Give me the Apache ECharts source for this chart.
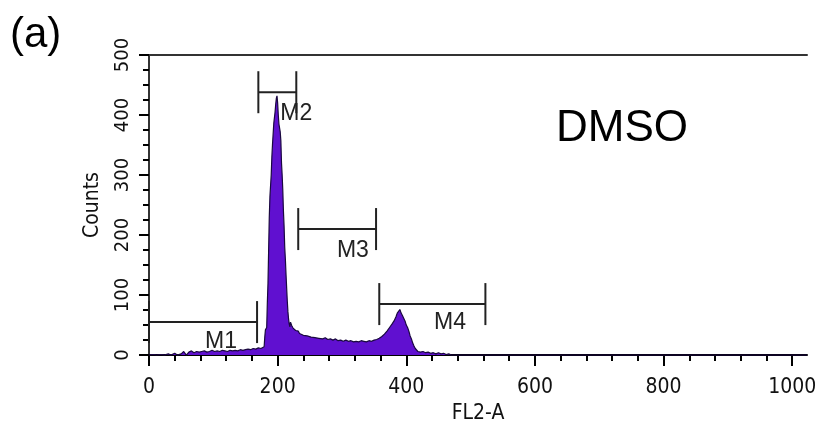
<!DOCTYPE html>
<html><head><meta charset="utf-8">
<script src="https://cdn.jsdelivr.net/npm/echarts@6/dist/echarts.min.js"></script>
<style>html,body{margin:0;padding:0;background:#fff}#c{width:822px;height:429px}</style>
</head><body><div id="c"></div>
<script>
// Histogram channels (FL2-A) and counts
const histX = [0,6,12,18,24,30,34,40,44,50,54,58,62,66,70,74,78,82,86,90,94,98,102,106,110,114,118,122,126,130,134,138,142,146,150,154,158,162,166,170,174,177,179,180,181,183,184,185,186,187,188,190,191,192,194,196,197,198,199,200,201,202,204,205,206,207,208,209,210,211,212,213,214,215,216,217,218,219,220,222,224,226,228,230,232,234,237,240,243,246,249,252,255,258,261,264,267,270,274,278,282,286,290,294,298,302,306,310,314,318,322,326,330,334,338,342,346,350,354,358,362,366,370,374,378,381,384,386,388,390,392,394,396,398,400,402,404,406,408,410,412,414,416,418,422,426,430,434,438,442,446,450,454,458,462,466,470,1023];
const histCounts = [0,1,0,1,0,2,0,3,0,2,6,0,5,7,4,6,5,6,7,5,6,8,6,7,6,8,7,6,8,7,8,7,9,8,9,10,9,11,10,12,11,13,14,30,42,46,88,120,175,230,264,300,330,351,386,405,418,428,432,420,400,385,372,357,320,300,275,240,215,180,160,135,112,90,72,60,52,47,55,49,45,47,41,38,40,36,38,33,35,32,33,30,32,29,31,28,29,27,29,26,27,25,27,24,25,23,25,23,24,22,23,22,24,23,22,24,23,25,26,28,31,35,40,46,52,57,64,70,73,76,70,66,63,57,50,46,40,32,27,20,15,11,8,6,5,6,4,5,3,4,2,4,2,3,1,2,0,0];

// Axis ticks
const xMajor = [0,200,400,600,800,1000];
const xMinor = [40,80,120,160,240,280,320,360,440,480,520,560,640,680,720,760,840,880,920,960];

// Marker gates (M1..M4): start, end, level, label anchor
const markerNames = ['M1','M2','M3','M4'];
const markerStart = [0,170,232,358];
const markerEnd = [168,229,353,523];
const markerLevel = [55,438,210,85];
const markerLabelX = [112,229,317,468];
const markerLabelY = [23,402,174,54];

const histData = histX.map((x,i)=>[x,histCounts[i]]);
const markerData = markerNames.map((n,i)=>[markerStart[i],markerEnd[i],markerLevel[i],markerLabelX[i],markerLabelY[i],n]);

const narrow = '"Liberation Sans Narrow","DejaVu Sans Condensed","Arial Narrow","Liberation Sans",Arial,sans-serif';
const chart = echarts.init(document.getElementById('c'), null, {renderer:'canvas'});
chart.setOption({
  animation:false,
  backgroundColor:'#fff',
  grid:{left:149,right:15,top:55,bottom:67,containLabel:false},
  xAxis:[
    {type:'value',position:'bottom',min:0,max:1023,
     axisLine:{show:true,lineStyle:{color:'#000',width:2}},
     axisTick:{show:true,customValues:xMajor,length:11,lineStyle:{color:'#000',width:2}},
     axisLabel:{show:true,customValues:xMajor,margin:22,fontFamily:narrow,fontSize:21,color:'#111',
       formatter:function(v){return String(v);}},
     splitLine:{show:false},
     name:'FL2-A',nameLocation:'middle',nameGap:46,
     nameTextStyle:{fontFamily:narrow,fontSize:21,color:'#111'}},
    {type:'value',position:'bottom',min:0,max:1023,
     axisLine:{show:false},
     axisTick:{show:true,customValues:xMinor,length:6,lineStyle:{color:'#000',width:2}},
     axisLabel:{show:false},splitLine:{show:false}},
    {type:'value',position:'top',min:0,max:1023,
     axisLine:{show:true,lineStyle:{color:'#333',width:2}},
     axisTick:{show:false},axisLabel:{show:false},splitLine:{show:false}}
  ],
  yAxis:[
    {type:'value',position:'left',min:0,max:500,interval:100,
     axisLine:{show:true,lineStyle:{color:'#000',width:2}},
     axisTick:{show:true,length:10,lineStyle:{color:'#000',width:2}},
     minorTick:{show:true,splitNumber:4,length:6,lineStyle:{color:'#000',width:2}},
     axisLabel:{show:true,rotate:90,margin:16,fontFamily:narrow,fontSize:20,color:'#111'},
     splitLine:{show:false},minorSplitLine:{show:false},
     name:'Counts',nameLocation:'middle',nameGap:46,nameRotate:90,
     nameTextStyle:{fontFamily:narrow,fontSize:21,color:'#111'}},
    {type:'value',position:'right',min:0,max:500,
     axisLine:{show:true,lineStyle:{color:'#333',width:2}},
     axisTick:{show:false},axisLabel:{show:false},splitLine:{show:false}}
  ],
  graphic:[
    {type:'text',left:10,top:14,style:{text:'(a)',fontFamily:'"Liberation Sans",Arial,sans-serif',fontSize:42,fill:'#000'}},
    {type:'text',left:556,top:107,style:{text:'DMSO',fontFamily:'"Liberation Sans",Arial,sans-serif',fontSize:44,fill:'#000'}}
  ],
  series:[
    {type:'line',xAxisIndex:0,yAxisIndex:0,data:histData,symbol:'none',
     lineStyle:{color:'#1a0840',width:1.2},
     areaStyle:{color:'#6010d0',opacity:1},z:2},
    {type:'custom',xAxisIndex:0,yAxisIndex:0,data:markerData,clip:false,z:5,
     renderItem:function(params,api){
       const a=api.coord([api.value(0),api.value(2)]);
       const b=api.coord([api.value(1),api.value(2)]);
       const t=api.coord([api.value(3),api.value(4)]);
       const h=21;
       const ls={stroke:'#222',lineWidth:2};
       return {type:'group',children:[
         {type:'line',shape:{x1:a[0],y1:a[1],x2:b[0],y2:b[1]},style:ls},
         {type:'line',shape:{x1:a[0],y1:a[1]-h,x2:a[0],y2:a[1]+h},style:ls},
         {type:'line',shape:{x1:b[0],y1:b[1]-h,x2:b[0],y2:b[1]+h},style:ls},
         {type:'text',x:t[0],y:t[1],style:{text:markerNames[params.dataIndex],fontFamily:'"Liberation Sans",Arial,sans-serif',fontSize:23,fill:'#222',align:'center',verticalAlign:'middle'}}
       ]};
     }}
  ]
});
</script></body></html>
